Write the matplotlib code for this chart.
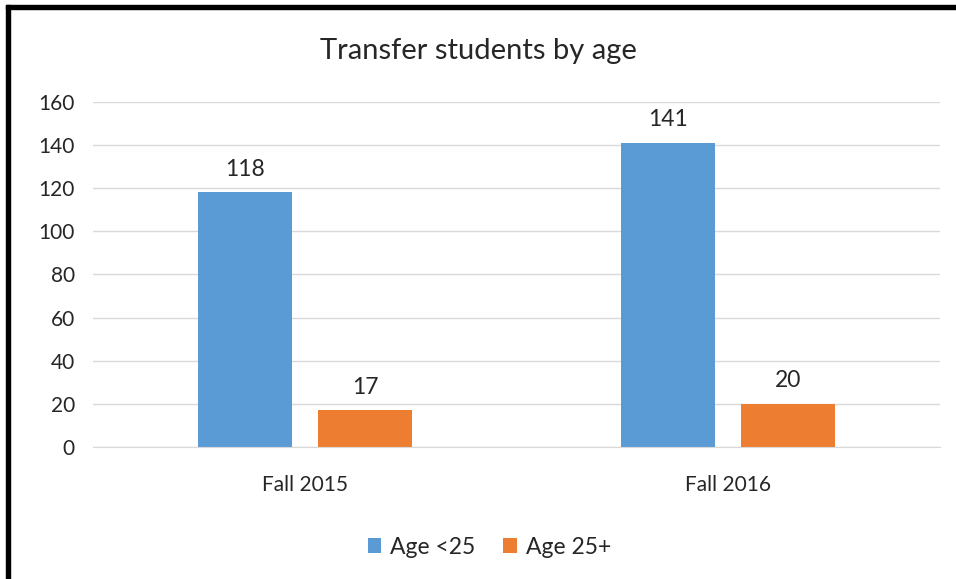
import matplotlib.pyplot as plt
from matplotlib.patches import Rectangle
import numpy as np

plt.rcParams['font.family'] = ['Lato', 'DejaVu Sans']

# data
categories = ['Fall 2015', 'Fall 2016']
series_names = ['Age <25', 'Age 25+']
under25 = [118, 141]
over25 = [17, 20]
colors = ['#5B9BD5', '#ED7D31']
text_col = '#262626'

fig = plt.figure(figsize=(9.56, 5.79), dpi=100)
ax = fig.add_axes([0.0973, 0.228, 0.886, 0.596])

x = np.arange(len(categories))
w = 0.222
off = 0.142
for vals, dx, c, name in [(under25, -off, colors[0], series_names[0]),
                          (over25, off, colors[1], series_names[1])]:
    bars = ax.bar(x + dx, vals, width=w, color=c, label=name, zorder=2)
    for b, v in zip(bars, vals):
        ax.annotate(str(v), (b.get_x() + b.get_width() / 2, v),
                    xytext=(0, 9), textcoords='offset points',
                    ha='center', va='bottom', fontsize=16.5, color=text_col)

ax.set_xlim(-0.5, len(categories) - 0.5)
ax.set_ylim(0, 160)
ax.set_yticks(range(0, 161, 20))
ax.set_xticks(x)
ax.set_xticklabels(categories)
ax.grid(axis='y', color='#D9D9D9', linewidth=1, zorder=0)
for s in ['top', 'right', 'left']:
    ax.spines[s].set_visible(False)
ax.spines['bottom'].set_color('#D9D9D9')
ax.tick_params(axis='both', length=0, labelsize=15, labelcolor=text_col)
ax.tick_params(axis='x', pad=20)
ax.tick_params(axis='y', pad=13)

fig.text(0.5, 0.912, 'Transfer students by age', ha='center', va='center',
         fontsize=21, color=text_col)

fig.legend(loc='center', bbox_to_anchor=(0.512, 0.055), ncol=2, frameon=False,
           fontsize=16.5, handlelength=0.6, handleheight=0.6, columnspacing=1.2,
           handletextpad=0.4, labelcolor=text_col)

# black border on left and top edges
fig.patches.append(Rectangle((6 / 956, 0), 4 / 956, 1 - 5 / 579,
                             transform=fig.transFigure, color='black', zorder=10))
fig.patches.append(Rectangle((6 / 956, 1 - 9 / 579), 1, 4 / 579,
                             transform=fig.transFigure, color='black', zorder=10))

fig.savefig('out.png', dpi=100)
